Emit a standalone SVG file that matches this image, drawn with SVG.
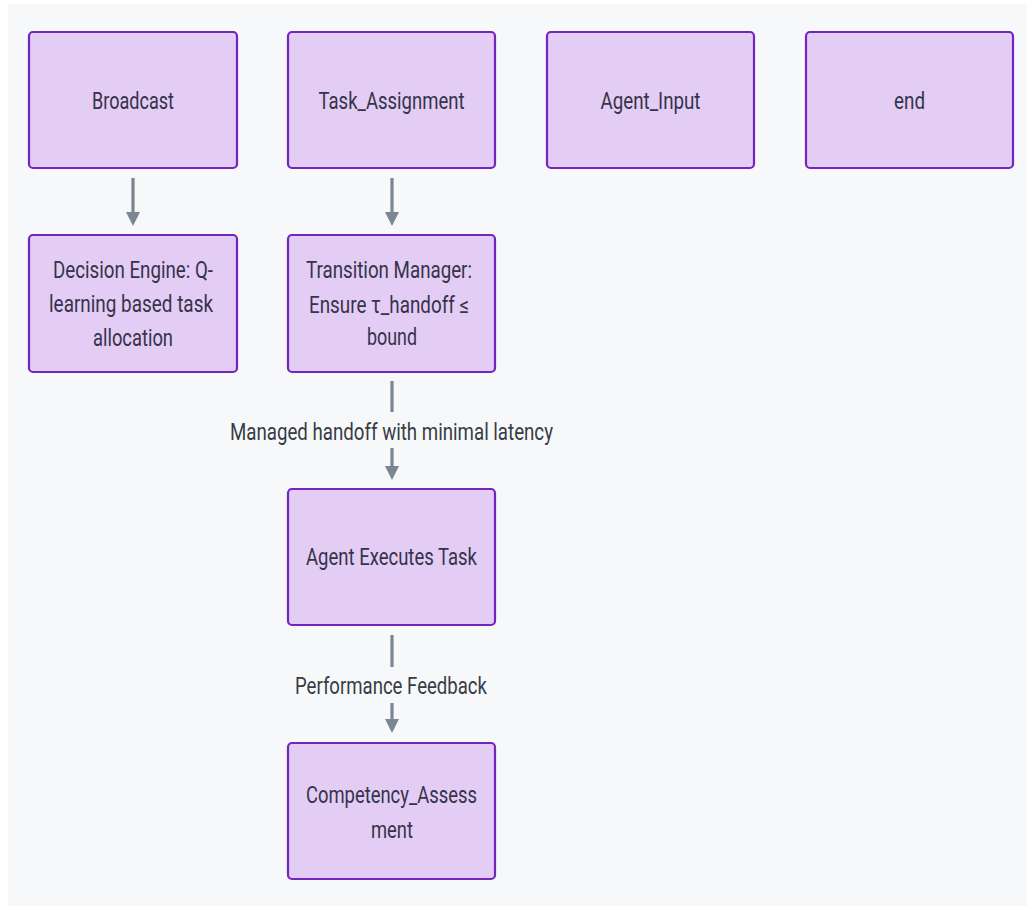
<svg xmlns="http://www.w3.org/2000/svg" width="1027" height="906" viewBox="0 0 1027 906">
<style>
.bg{fill:#f7f8fa}
.node rect{fill:#e3cdf4;stroke:#7425bd;stroke-width:2.2}
text{font-family:Roboto,"Liberation Sans",sans-serif;font-size:23px;fill:#36334b;text-anchor:middle}
.lbl{fill:#373c45}
.edge line{stroke:#7b8692;stroke-width:3.2}
.edge polygon{fill:#7b8692}
</style>
<rect x="0" y="0" width="1027" height="906" fill="#ffffff"/>
<rect class="bg" x="8" y="4" width="1019" height="902"/>
<g id="connectors" class="edge">
<line x1="133" y1="178" x2="133" y2="214"/>
<polygon points="126,212 140,212 133,226"/>
<line x1="392" y1="178" x2="392" y2="214"/>
<polygon points="385,212 399,212 392,226"/>
<line x1="392" y1="381" x2="392" y2="412"/>
<line x1="392" y1="448" x2="392" y2="468"/>
<polygon points="385,466 399,466 392,480"/>
<text class="lbl" x="391.5" y="440" textLength="323" lengthAdjust="spacingAndGlyphs">Managed handoff with minimal latency</text>
<line x1="392" y1="635" x2="392" y2="667"/>
<line x1="392" y1="703" x2="392" y2="721"/>
<polygon points="385,719 399,719 392,733"/>
<text class="lbl" x="391" y="694" textLength="192" lengthAdjust="spacingAndGlyphs">Performance Feedback</text>
</g>
<g id="Broadcast" class="node">
<rect x="29" y="32" width="208" height="136" rx="4"/>
<text x="133" y="109" textLength="82" lengthAdjust="spacingAndGlyphs">Broadcast</text>
</g>
<g id="Task_Assignment" class="node">
<rect x="288" y="32" width="207" height="136" rx="4"/>
<text x="391.5" y="109" textLength="146" lengthAdjust="spacingAndGlyphs">Task_Assignment</text>
</g>
<g id="Agent_Input" class="node">
<rect x="547" y="32" width="207" height="136" rx="4"/>
<text x="650.5" y="109" textLength="100" lengthAdjust="spacingAndGlyphs">Agent_Input</text>
</g>
<g id="end" class="node">
<rect x="806" y="32" width="207" height="136" rx="4"/>
<text x="909.5" y="109" textLength="31" lengthAdjust="spacingAndGlyphs">end</text>
</g>
<g id="Decision_Engine" class="node">
<rect x="29" y="235" width="208" height="137" rx="4"/>
<text x="133" y="278" textLength="160" lengthAdjust="spacingAndGlyphs">Decision Engine: Q-</text>
<text x="131" y="312" textLength="164" lengthAdjust="spacingAndGlyphs">learning based task</text>
<text x="133" y="346" textLength="80" lengthAdjust="spacingAndGlyphs">allocation</text>
</g>
<g id="Transition_Manager" class="node">
<rect x="288" y="235" width="207" height="137" rx="4"/>
<text x="389" y="278" textLength="166" lengthAdjust="spacingAndGlyphs">Transition Manager:</text>
<text x="389" y="313" textLength="160" lengthAdjust="spacingAndGlyphs">Ensure τ_handoff ≤</text>
<text x="392" y="345" textLength="50" lengthAdjust="spacingAndGlyphs">bound</text>
</g>
<g id="Agent_Executes_Task" class="node">
<rect x="288" y="489" width="207" height="136" rx="4"/>
<text x="391.5" y="565" textLength="171" lengthAdjust="spacingAndGlyphs">Agent Executes Task</text>
</g>
<g id="Competency_Assessment" class="node">
<rect x="288" y="743" width="207" height="136" rx="4"/>
<text x="391.5" y="803" textLength="171" lengthAdjust="spacingAndGlyphs">Competency_Assess</text>
<text x="392" y="838" textLength="42" lengthAdjust="spacingAndGlyphs">ment</text>
</g>
</svg>
